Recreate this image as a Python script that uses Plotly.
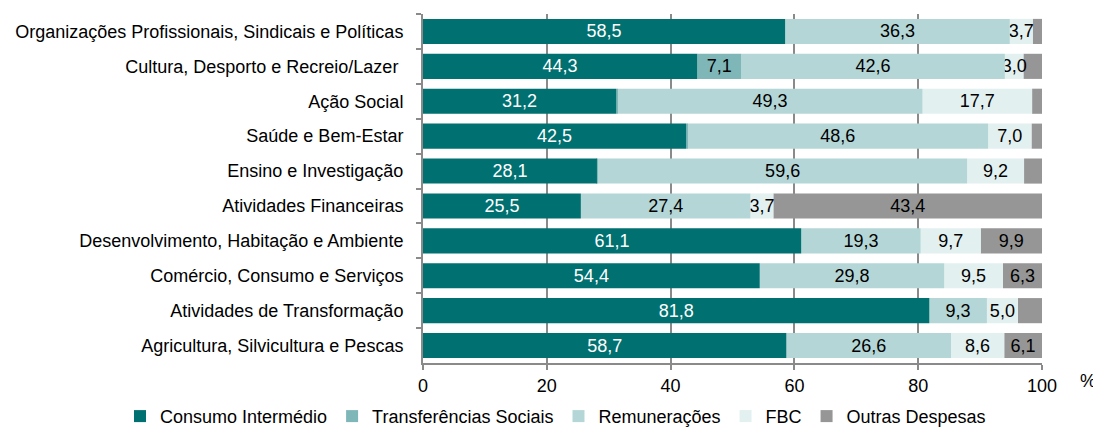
import plotly.graph_objects as go

categories = [
    "Organizações Profissionais, Sindicais e Políticas",
    "Cultura, Desporto e Recreio/Lazer\u00a0",
    "Ação Social",
    "Saúde e Bem-Estar",
    "Ensino e Investigação",
    "Atividades Financeiras",
    "Desenvolvimento, Habitação e Ambiente",
    "Comércio, Consumo e Serviços",
    "Atividades de Transformação",
    "Agricultura, Silvicultura e Pescas",
]

consumo_intermedio = [58.5, 44.3, 31.2, 42.5, 28.1, 25.5, 61.1, 54.4, 81.8, 58.7]
transferencias_sociais = [0.0, 7.1, 0.2, 0.2, 0.2, 0.0, 0.0, 0.0, 0.0, 0.0]
remuneracoes = [36.3, 42.6, 49.3, 48.6, 59.6, 27.4, 19.3, 29.8, 9.3, 26.6]
fbc = [3.7, 3.0, 17.7, 7.0, 9.2, 3.7, 9.7, 9.5, 5.0, 8.6]
outras_despesas = [1.5, 3.0, 1.6, 1.7, 2.9, 43.4, 9.9, 6.3, 3.9, 6.1]

x_ticks = [0, 20, 40, 60, 80, 100]

series = [
    ("Consumo Intermédio", consumo_intermedio, "#007070", "white", 1.0),
    ("Transferências Sociais", transferencias_sociais, "#7fb7b8", "black", 1.0),
    ("Remunerações", remuneracoes, "#b4d6d6", "black", 1.0),
    ("FBC", fbc, "#e3f0f0", "black", 1.0),
    ("Outras Despesas", outras_despesas, "#969696", "black", 5.0),
]

FONT = "Liberation Sans, Arial, sans-serif"
FS = 18

# cumulative bases so that later segments can be drawn first (labels stay on top)
bases = []
running = [0.0] * len(categories)
for _, vals, *_ in series:
    bases.append(list(running))
    running = [r + v for r, v in zip(running, vals)]

fig = go.Figure()
for (name, vals, color, tcolor, thr), base in reversed(list(zip(series, bases))):
    labels = [f"{v:.1f}".replace(".", ",") if v >= thr else "" for v in vals]
    fig.add_trace(go.Bar(
        name=name, y=categories, x=vals, base=base, orientation="h",
        marker=dict(color=color, line=dict(width=0)),
        text=labels, textposition="inside", insidetextanchor="middle",
        textangle=0,
        insidetextfont=dict(color=tcolor, size=FS, family=FONT),
        hoverinfo="x+name",
    ))

fig.update_layout(
    width=1101, height=428,
    barmode="overlay", bargap=0.28,
    plot_bgcolor="white", paper_bgcolor="white",
    margin=dict(l=415, r=67, t=6, b=73, autoexpand=False),
    font=dict(family=FONT, size=FS, color="black"),
    uniformtext=dict(minsize=FS, mode="show"),
    showlegend=True,
    legend=dict(orientation="h", xref="paper", x=-0.4895, xanchor="left",
                yref="paper", y=-0.1, yanchor="top",
                font=dict(size=FS), itemwidth=30, traceorder="reversed"),
)
fig.update_xaxes(
    range=[0, 100], tickvals=x_ticks, ticktext=[str(t) for t in x_ticks],
    showgrid=True, gridcolor="#8a8a8a", gridwidth=2,
    showline=True, linecolor="#8a8a8a", linewidth=2,
    ticks="outside", ticklen=5, tickcolor="#8a8a8a", tickwidth=2,
    zeroline=False, fixedrange=True, automargin=False,
)
fig.update_yaxes(
    autorange="reversed", categoryorder="array", categoryarray=categories,
    showline=True, linecolor="#8a8a8a", linewidth=2,
    ticks="outside", ticklen=5, tickcolor="#8a8a8a", tickwidth=2,
    tickson="boundaries", ticklabelstandoff=14, showgrid=False, automargin=False,
)
fig.add_annotation(text="%", xref="paper", yref="paper", x=1.0, y=0,
                   xshift=46, yshift=-18, showarrow=False,
                   font=dict(size=FS), xanchor="center", yanchor="middle")

fig.write_html("out.html")
